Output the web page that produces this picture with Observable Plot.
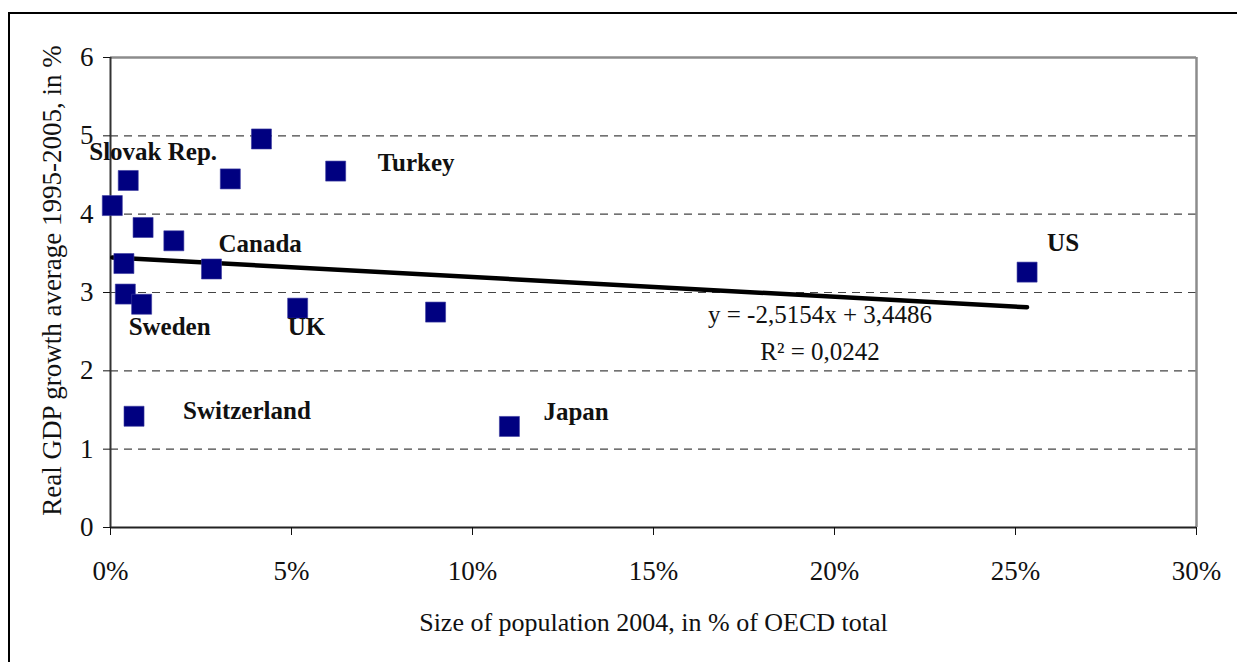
<!DOCTYPE html>
<html>
<head>
<meta charset="utf-8">
<script src="https://cdn.jsdelivr.net/npm/d3@7"></script>
<script src="https://cdn.jsdelivr.net/npm/@observablehq/plot@0.6"></script>
<style>
  html, body { margin: 0; padding: 0; background: #fff; }
  #wrap { position: relative; width: 1237px; height: 662px; overflow: hidden; }
  #frame { position: absolute; left: 8px; top: 12px; width: 1400px; height: 800px;
           border-left: 2px solid #000; border-top: 2px solid #000; pointer-events: none; }
  #chart svg, #chart svg text { font-family: 'Liberation Serif', 'Times New Roman', serif !important;
           font-variant: normal !important; font-variant-numeric: normal !important; }
</style>
</head>
<body>
<div id="wrap"><div id="frame"></div><div id="chart"></div></div>
<script>
// ---- data ----
const popShare = [0.0005, 0.0049, 0.0090, 0.0175, 0.0331, 0.0417, 0.0622, 0.0037, 0.0279, 0.0041, 0.0086, 0.0517, 0.0898, 0.0065, 0.1102, 0.2532];
const gdpGrowth = [4.11, 4.43, 3.83, 3.66, 4.45, 4.96, 4.55, 3.37, 3.30, 2.98, 2.85, 2.80, 2.75, 1.42, 1.29, 3.26];
const labels = ["", "Slovak Rep.", "", "", "", "", "Turkey", "", "Canada", "", "Sweden", "UK", "", "Switzerland", "Japan", "US"];
const xTicks = [0, 0.05, 0.10, 0.15, 0.20, 0.25, 0.30];
const yTicks = [0, 1, 2, 3, 4, 5, 6];
const gridLines = [1, 2, 3, 4, 5];
const trendSlope = -2.5154;
const trendIntercept = 3.4486;
const equationLines = ["y = -2,5154x + 3,4486", "R\u00B2 = 0,0242"];
const xTitle = "Size of population 2004, in % of OECD total";
const yTitle = "Real GDP growth average 1995-2005, in %";

// ---- build ----
const FONT = "'Liberation Serif', 'Times New Roman', serif";
const points = popShare.map((x, i) => ({x, y: gdpGrowth[i], label: labels[i]}));
const xMin = d3.min(popShare), xMax = d3.max(popShare);
const trend = [xMin, xMax].map(x => ({x, y: trendIntercept + trendSlope * x}));

// label placement (pixel offsets from the point)
const labelOffset = {
  "Slovak Rep.": [-39, -28],
  "Turkey": [42, -8],
  "Canada": [7, -25],
  "Sweden": [-13, 23],
  "UK": [-10, 19],
  "Switzerland": [49, -5],
  "Japan": [34, -14],
  "US": [20, -29]
};
const labelMarks = points.filter(p => p.label).map(p =>
  Plot.text([p], {x: "x", y: "y", text: "label", textAnchor: "start", lineAnchor: "middle",
    dx: labelOffset[p.label][0], dy: labelOffset[p.label][1],
    fontSize: 25, fontWeight: "bold", fill: "#111", fontFamily: FONT}));

const eqPos = [{x: 0.196, y: 2.71}, {x: 0.196, y: 2.235}];

const chart = Plot.plot({
  width: 1237,
  height: 662,
  marginLeft: 110,
  marginRight: 41,
  marginTop: 57,
  marginBottom: 135,
  style: {fontFamily: FONT, background: "transparent", color: "#111"},
  x: {domain: [0, 0.30]},
  y: {domain: [0, 6]},
  marks: [
    Plot.ruleY(gridLines, {stroke: "#444", strokeWidth: 1.2, strokeDasharray: "8,6"}),
    Plot.ruleY([6], {stroke: "#8c8c8c", strokeWidth: 2.5}),
    Plot.ruleX([0.30], {stroke: "#8c8c8c", strokeWidth: 2.5}),
    Plot.ruleX([0], {stroke: "#333", strokeWidth: 2}),
    Plot.ruleY([0], {stroke: "#222", strokeWidth: 2}),
    Plot.axisX({ticks: xTicks, tickFormat: d3.format(".0%"), tickSize: 8, tickPadding: 25,
      fontSize: 27, label: null, stroke: "#111", fontFamily: FONT, fontVariant: "normal"}),
    Plot.axisY({ticks: yTicks, tickFormat: d3.format("d"), tickSize: 7, tickPadding: 10,
      fontSize: 27, label: null, stroke: "#111", fontFamily: FONT, fontVariant: "normal"}),
    Plot.line(trend, {x: "x", y: "y", stroke: "#000", strokeWidth: 4.5, strokeLinecap: "round"}),
    Plot.dot(points, {x: "x", y: "y", symbol: "square", r: 11.3, fill: "#000080",
      stroke: "#3a3aa0", strokeWidth: 0.6}),
    ...labelMarks,
    Plot.text(equationLines.map((t, i) => ({t, ...eqPos[i]})), {x: "x", y: "y", text: "t",
      textAnchor: "middle", lineAnchor: "middle", fontSize: 25, fill: "#111", fontFamily: FONT}),
    Plot.text([xTitle], {frameAnchor: "bottom", text: d => d, dy: 95, textAnchor: "middle",
      lineAnchor: "middle", fontSize: 26, fill: "#111", fontFamily: FONT}),
    Plot.text([yTitle], {frameAnchor: "left", text: d => d, rotate: -90, dx: -58, dy: -12,
      textAnchor: "middle", lineAnchor: "middle", fontSize: 27, fill: "#111", fontFamily: FONT})
  ]
});
document.getElementById("chart").appendChild(chart);
</script>
</body>
</html>
